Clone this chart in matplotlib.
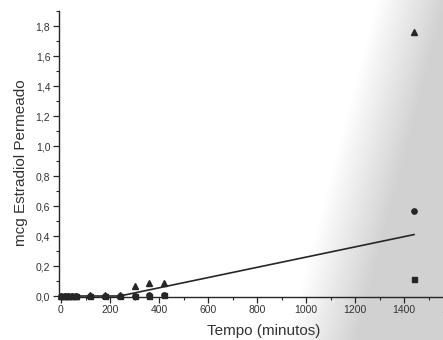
import numpy as np
import matplotlib
matplotlib.use("Agg")
import matplotlib.pyplot as plt
from matplotlib.ticker import MultipleLocator, FuncFormatter

plt.rcParams['font.family'] = ['Liberation Sans', 'DejaVu Sans']

# --- data ---
tri_t = [0, 15, 30, 45, 60, 120, 180, 240, 300, 360, 420, 1440]
tri_y = [0.0, 0.0, 0.0, 0.0, 0.0, 0.005, 0.005, 0.01, 0.07, 0.085, 0.09, 1.76]
circ_t = [0, 15, 30, 45, 60, 120, 180, 240, 300, 360, 420, 1440]
circ_y = [0.0, 0.0, 0.0, 0.0, 0.0, 0.0, 0.0, 0.0, 0.0, 0.005, 0.005, 0.57]
sq_t = [0, 15, 30, 45, 60, 120, 180, 240, 300, 360, 420, 1440]
sq_y = [0.0, 0.0, 0.0, 0.0, 0.0, 0.0, 0.0, 0.0, 0.0, 0.0, 0.005, 0.115]
line_t = [0, 240, 1440]
line_y = [0.0, 0.0, 0.41]

xlabel = "Tempo (minutos)"
ylabel = "mcg Estradiol Permeado"

W, H = 443, 340
fig = plt.figure(figsize=(W / 100, H / 100), dpi=100)

# scanned-paper grey shading on the right side
bg = fig.add_axes([0, 0, 1, 1], zorder=-10)
yy, xx = np.mgrid[0:H, 0:W]
x0 = 375 - (yy / H) * 90
shade = np.clip((xx - x0) / 70.0, 0, 1) * 0.18
img = 1 - shade
bg.imshow(img, cmap='gray', vmin=0, vmax=1, aspect='auto', extent=[0, W, H, 0])
bg.axis('off')

px_per_unit = (414 - 61) / 1440.0
xl0, xl1 = -10, 1610
left_px = 61 + xl0 * px_per_unit
width_px = (xl1 - xl0) * px_per_unit
yppu = 149.8
yl0, yl1 = -0.005, 1.9
bottom_px = 296 - yl0 * yppu  # from top
height_px = (yl1 - yl0) * yppu
ax = fig.add_axes([left_px / W, (H - bottom_px) / H, width_px / W, height_px / H])
ax.set_facecolor('none')
ax.set_xlim(xl0, xl1)
ax.set_ylim(yl0, yl1)

c = '#262626'
ax.plot(line_t, line_y, color=c, lw=1.2, zorder=2)
ax.plot(tri_t, tri_y, '^', color=c, ms=5, ls='none', clip_on=False, zorder=3)
ax.plot(circ_t, circ_y, 'o', color=c, ms=3.8, ls='none', clip_on=False, zorder=3)
ax.plot(sq_t, sq_y, 's', color=c, ms=3.6, ls='none', clip_on=False, zorder=3)

for s in ['top', 'right']:
    ax.spines[s].set_visible(False)
for s in ['left', 'bottom']:
    ax.spines[s].set_color(c)
    ax.spines[s].set_linewidth(1.0)

ax.xaxis.set_major_locator(MultipleLocator(200))
ax.xaxis.set_minor_locator(MultipleLocator(100))
ax.yaxis.set_major_locator(MultipleLocator(0.2))
ax.yaxis.set_minor_locator(MultipleLocator(0.1))
ax.yaxis.set_major_formatter(FuncFormatter(lambda v, p: f"{v:.1f}".replace('.', ',')))
ax.xaxis.set_major_formatter(FuncFormatter(lambda v, p: f"{int(round(v))}"))
ax.tick_params(which='major', direction='out', length=4, width=0.9, color=c,
               labelsize=7.5, labelcolor='#333333', pad=2)
ax.tick_params(which='minor', direction='out', length=2, width=0.8, color=c)

fig.text(264 / W, 1 - 331 / H, xlabel, ha='center', va='center', fontsize=11, color='#333333')
fig.text(21 / W, 1 - 163 / H, ylabel, ha='center', va='center', rotation=90,
         fontsize=11, color='#333333')

fig.savefig('out.png', dpi=100)
